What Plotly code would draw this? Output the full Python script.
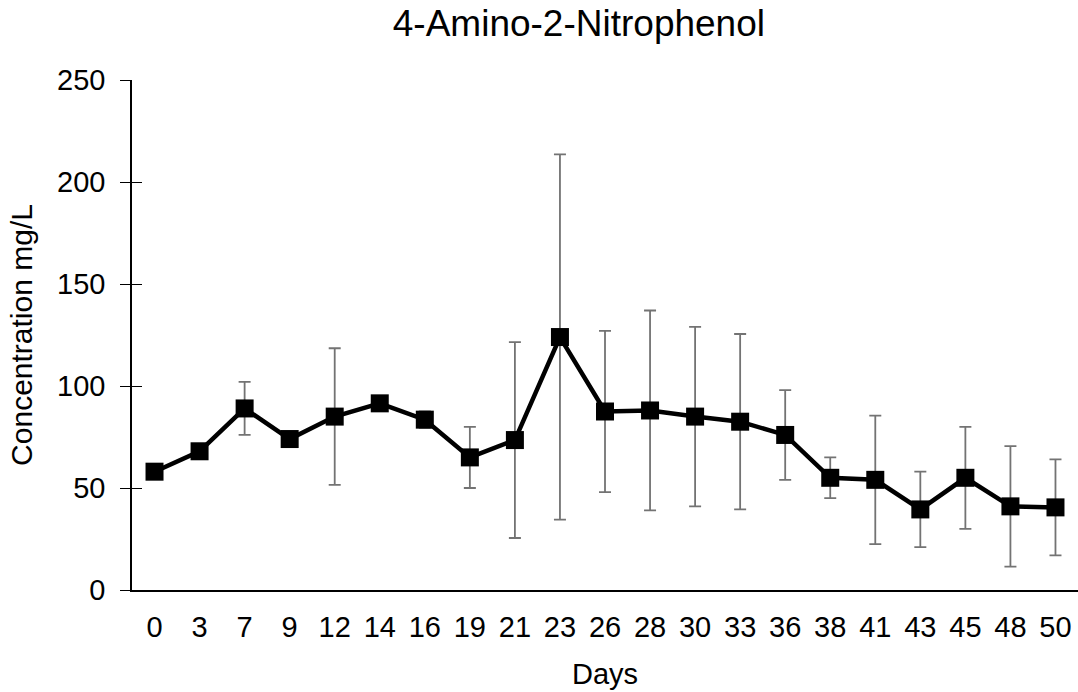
import plotly.graph_objects as go

days = ["0", "3", "7", "9", "12", "14", "16", "19", "21", "23", "26",
        "28", "30", "33", "36", "38", "41", "43", "45", "48", "50"]
conc = [58, 68, 89, 74, 85, 91.5, 83.5, 65, 73.5, 124, 87.5,
        88, 85, 82.5, 76, 55, 54, 39.5, 55, 41, 40.5]
err = [1.5, 1.5, 13, 1.5, 33.5, 1.5, 4, 15, 48, 89.5, 39.5,
       49, 44, 43, 22, 10, 31.5, 18.5, 25, 29.5, 23.5]

FONT = "Liberation Sans, Arial, sans-serif"

fig = go.Figure()
fig.add_trace(go.Scatter(
    x=days, y=conc, mode="lines+markers",
    line=dict(color="black", width=4.5),
    marker=dict(symbol="square", size=18, color="black"),
    error_y=dict(type="data", array=err, visible=True,
                 color="#737373", thickness=1.8, width=6),
    showlegend=False,
))

fig.update_layout(
    width=1078, height=692,
    margin=dict(l=132, r=0, t=80, b=102),
    paper_bgcolor="white", plot_bgcolor="white",
    font=dict(family=FONT, color="black", size=29),
    title=dict(text="4-Amino-2-Nitrophenol", x=0.537, xanchor="center",
               y=0.967, yanchor="middle", font=dict(size=37, family=FONT)),
    xaxis=dict(
        type="category", range=[-0.5, 20.5],
        showline=True, linecolor="black", linewidth=2,
        ticks="", showgrid=False, zeroline=False, automargin=False,
        tickfont=dict(size=29), ticklabelstandoff=10,
        title=dict(text="Days", font=dict(size=29), standoff=22),
    ),
    yaxis=dict(
        range=[0, 250], tickvals=[0, 50, 100, 150, 200, 250],
        showline=True, linecolor="black", linewidth=1.5,
        ticks="outside", ticklen=10, tickwidth=1.3, tickcolor="black",
        showgrid=False, zeroline=False, tickfont=dict(size=29),
        ticklabelstandoff=9, automargin=False,
        title=dict(text="Concentration mg/L", font=dict(size=30), standoff=16),
    ),
    yaxis2=dict(
        overlaying="y", range=[0, 250], tickvals=[0, 50, 100, 150, 200, 250],
        ticks="inside", ticklen=10, tickwidth=1.3, tickcolor="black",
        showticklabels=False, showgrid=False, zeroline=False, showline=False,
        side="left", anchor="x",
    ),
)
fig.add_trace(go.Scatter(x=[days[0]], y=[None], yaxis="y2", showlegend=False,
                         hoverinfo="skip"))

fig.write_html("out.html")
